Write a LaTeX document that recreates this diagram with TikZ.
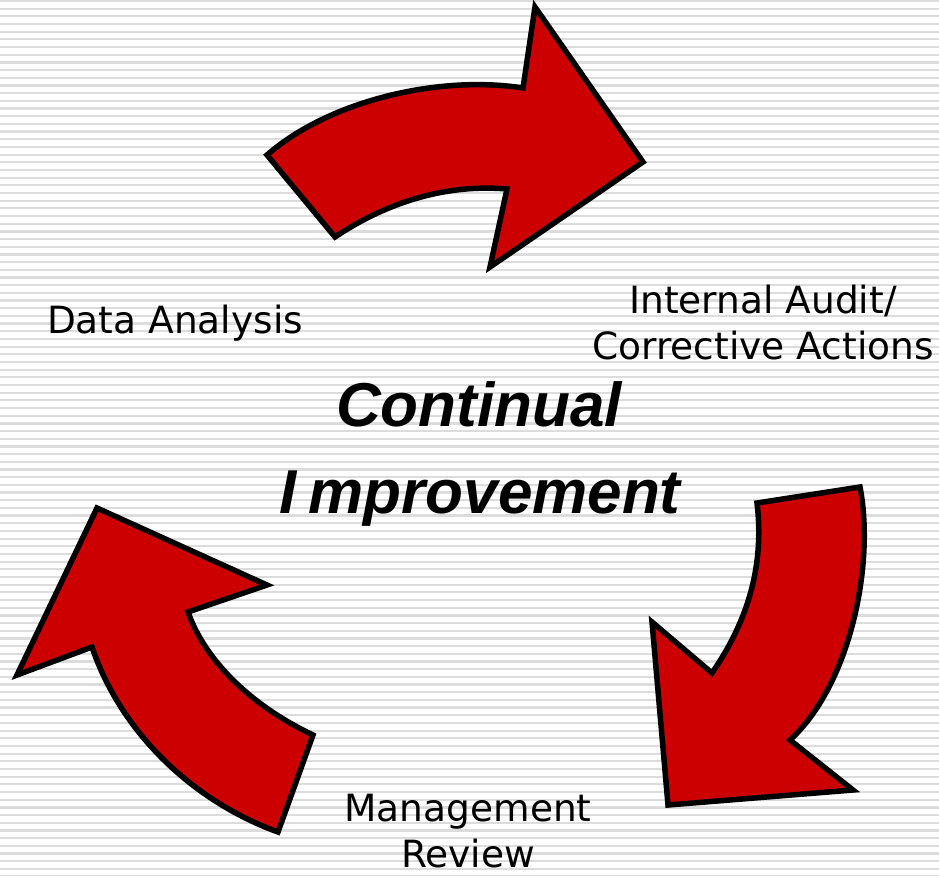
\documentclass[tikz,border=0pt]{standalone}
\usepackage{fontspec}
\setmainfont{DejaVu Sans}
\newfontfamily\titlefont{Liberation Sans}
\definecolor{arrred}{HTML}{CC0000}
\definecolor{stripe}{HTML}{DCDCDC}
\begin{document}
\begin{tikzpicture}[x=1pt,y=-1pt,
  bigarrow/.style={fill=arrred,draw=black,line width=5.5pt,line join=miter,miter limit=10},
  label/.style={font=\fontsize{37.5}{46}\selectfont,align=center,inner sep=0pt},
  title/.style={font=\titlefont\bfseries\itshape\fontsize{62}{70}\selectfont,inner sep=0pt}]
\useasboundingbox (0,0) rectangle (939,875);
\fill[white] (0,0) rectangle (939,875);
\foreach \i in {0,...,114}
  \draw[stripe,line width=2.2pt] (0,{1+7.68*\i}) -- (939,{1+7.68*\i});
% top arrow
\draw[bigarrow] (267,155) -- (335,237)
  .. controls (390,200) and (450,184) .. (507,189)
  -- (490,267) -- (643,162) -- (535,7) -- (523,88)
  .. controls (440,75) and (330,100) .. cycle;
% right arrow
\draw[bigarrow] (860,487) -- (757,503)
  .. controls (765,570) and (745,625) .. (712,673)
  -- (652,622) -- (668,805) -- (853,790) -- (790,740)
  .. controls (850,685) and (875,565) .. cycle;
% left arrow
\draw[bigarrow] (278,832) -- (313,735)
  .. controls (250,705) and (205,660) .. (188,612)
  -- (267,585) -- (97,508) -- (17,675) -- (92,647)
  .. controls (120,730) and (190,800) .. cycle;
\node[label] (da) at (175,323) {Data Analysis};
\node[label] (ia) at (763,323) {Internal Audit/\\Corrective Actions};
\node[label] (mr) at (468,831) {Management\\Review};
\node[title] (c1) at (479,404) {Continual};
\node[title] (c2) at (480,499) {I\kern12pt mprovement};
\end{tikzpicture}
\end{document}
